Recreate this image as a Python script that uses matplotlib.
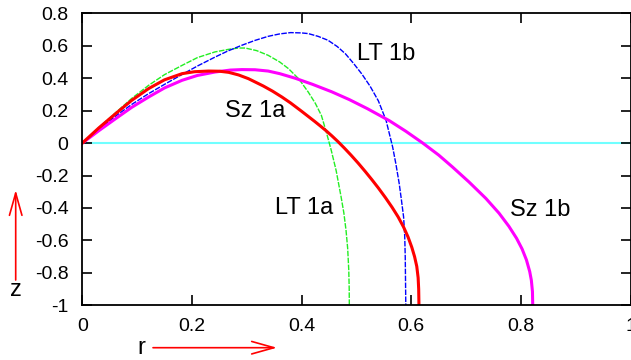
import matplotlib
matplotlib.use("Agg")
import matplotlib.pyplot as plt

plt.rcParams['font.family'] = ['Liberation Sans', 'DejaVu Sans']

# Sz 1a (red)
sz1a_r = [0, 0.03, 0.061, 0.09, 0.121, 0.15, 0.182, 0.205, 0.23, 0.25, 0.267,
          0.285, 0.303, 0.33, 0.347, 0.364, 0.38, 0.40, 0.424, 0.435, 0.445,
          0.455, 0.466, 0.478, 0.49, 0.503, 0.516, 0.528, 0.54, 0.553, 0.565,
          0.576, 0.586, 0.594, 0.601, 0.606, 0.61, 0.6125, 0.6135, 0.614]
sz1a_z = [0, 0.093, 0.182, 0.263, 0.336, 0.39, 0.428, 0.440, 0.444, 0.443, 0.436,
          0.42, 0.397, 0.352, 0.32, 0.284, 0.247, 0.196, 0.133, 0.103, 0.075,
          0.045, 0.01, -0.031, -0.074, -0.123, -0.175, -0.225, -0.277, -0.337,
          -0.396, -0.455, -0.518, -0.578, -0.643, -0.70, -0.76, -0.83, -0.9, -1.0]

# Sz 1b (magenta)
sz1b_r = [0, 0.03, 0.061, 0.09, 0.121, 0.15, 0.182, 0.21, 0.242, 0.27, 0.291,
          0.315, 0.339, 0.36, 0.388, 0.42, 0.455, 0.487, 0.52, 0.56, 0.59, 0.621,
          0.65, 0.675, 0.705, 0.736, 0.76, 0.778, 0.792, 0.802, 0.81, 0.816,
          0.819, 0.821, 0.8215]
sz1b_z = [0, 0.076, 0.151, 0.22, 0.284, 0.34, 0.387, 0.417, 0.438, 0.45, 0.453,
          0.452, 0.444, 0.428, 0.40, 0.362, 0.316, 0.268, 0.212, 0.138, 0.073, 0.0,
          -0.074, -0.147, -0.239, -0.341, -0.432, -0.513, -0.587, -0.652, -0.72,
          -0.792, -0.846, -0.916, -1.0]

# LT 1a (green)
lt1a_r = [0, 0.03, 0.061, 0.09, 0.121, 0.15, 0.182, 0.21, 0.242, 0.267, 0.285,
          0.297, 0.318, 0.339, 0.36, 0.376, 0.395, 0.412, 0.425, 0.436, 0.445,
          0.454, 0.463, 0.472, 0.477, 0.481, 0.484, 0.486, 0.4868, 0.487]
lt1a_z = [0, 0.095, 0.188, 0.275, 0.356, 0.422, 0.479, 0.527, 0.562, 0.578, 0.586,
          0.586, 0.57, 0.541, 0.50, 0.459, 0.395, 0.315, 0.245, 0.171, 0.068,
          -0.044, -0.17, -0.332, -0.43, -0.538, -0.65, -0.784, -0.9, -1.0]

# LT 1b (blue)
lt1b_r = [0, 0.03, 0.061, 0.09, 0.121, 0.15, 0.182, 0.21, 0.242, 0.265, 0.291,
          0.315, 0.339, 0.36, 0.38, 0.40, 0.412, 0.43, 0.448, 0.465, 0.48, 0.495,
          0.51, 0.525, 0.54, 0.554, 0.566, 0.572, 0.578, 0.582, 0.586, 0.588,
          0.589, 0.5895, 0.59]
lt1b_z = [0, 0.083, 0.167, 0.238, 0.305, 0.362, 0.423, 0.475, 0.530, 0.567, 0.603,
          0.633, 0.658, 0.673, 0.681, 0.679, 0.675, 0.658, 0.634, 0.595, 0.55, 0.49,
          0.425, 0.35, 0.26, 0.14, -0.024, -0.13, -0.25, -0.35, -0.456, -0.57,
          -0.702, -0.85, -1.0]

xticks = [0, 0.2, 0.4, 0.6, 0.8, 1]
xticklabels = ["0", "0.2", "0.4", "0.6", "0.8", "1"]
yticks = [0.8, 0.6, 0.4, 0.2, 0, -0.2, -0.4, -0.6, -0.8, -1]
yticklabels = ["0.8", "0.6", "0.4", "0.2", "0", "-0.2", "-0.4", "-0.6", "-0.8", "-1"]

fig = plt.figure(figsize=(6.31, 3.6), dpi=100)
ax = fig.add_axes([82.3 / 631, 1 - 305.3 / 360, (630.6 - 82.3) / 631, (305.3 - 13.3) / 360])

# axis line z = 0
ax.plot([0, 1], [0, 0], color="#70ffff", lw=1.5, zorder=1)

ax.plot(lt1a_r, lt1a_z, color="#22ee22", lw=1.0, ls=(0, (4, 1)))
ax.plot(lt1b_r, lt1b_z, color="#0000ff", lw=1.0, ls=(0, (4, 1)))
ax.plot(sz1b_r, sz1b_z, color="#ff00ff", lw=2.2)
ax.plot(sz1a_r, sz1a_z, color="#ff0000", lw=2.2)

ax.text(0.315, 0.196, "Sz 1a", fontsize=17, ha="center", va="center")
ax.text(0.554, 0.547, "LT 1b", fontsize=17, ha="center", va="center")
ax.text(0.405, -0.40, "LT 1a", fontsize=17, ha="center", va="center")
ax.text(0.835, -0.41, "Sz 1b", fontsize=17, ha="center", va="center")

ax.set_xlim(0, 1)
ax.set_ylim(-1, 0.8)
ax.set_xticks(xticks)
ax.set_xticklabels(xticklabels)
ax.set_yticks(yticks)
ax.set_yticklabels(yticklabels)
ax.tick_params(direction="in", length=7, width=1.2, labelsize=14,
               top=True, right=True)
ax.tick_params(axis="x", pad=9)
ax.tick_params(axis="y", pad=10)
for sp in ax.spines.values():
    sp.set_linewidth(1.3)

# axis labels with arrows, gnuplot style
arrow = dict(arrowstyle="->,head_length=1.6,head_width=0.45", color="red",
             lw=1.2, shrinkA=0, shrinkB=0, mutation_scale=10)
ax.annotate("", xy=(277, 12.3), xytext=(153, 12.3),
            xycoords="figure pixels", textcoords="figure pixels", arrowprops=arrow)
ax.annotate("", xy=(15.7, 170), xytext=(15.7, 80),
            xycoords="figure pixels", textcoords="figure pixels", arrowprops=arrow)
fig.text(141.7 / 631, 12 / 360, "r", fontsize=17, ha="center", va="center")
fig.text(15.7 / 631, 70 / 360, "z", fontsize=17, ha="center", va="center")

fig.savefig("out.png", dpi=100)
